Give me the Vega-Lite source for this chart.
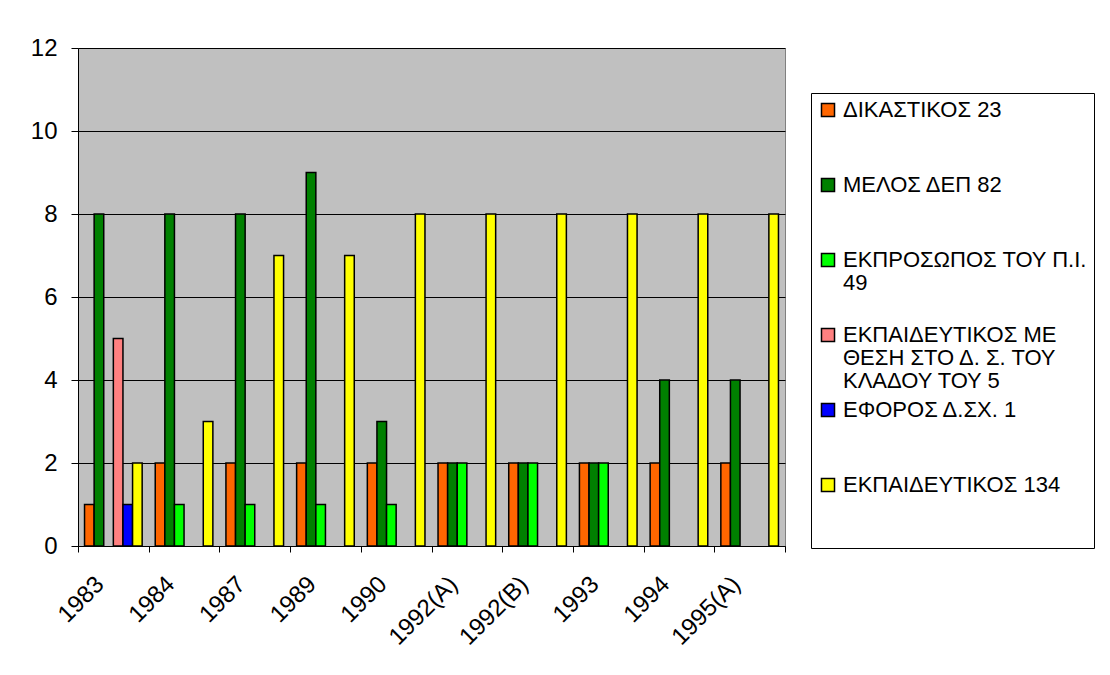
{
  "$schema": "https://vega.github.io/schema/vega-lite/v6.json",
  "width": 707,
  "height": 498,
  "autosize": {"type": "none"},
  "padding": {"left": 78, "top": 48, "right": 325, "bottom": 129},
  "background": "white",
  "config": {
    "font": "Liberation Sans",
    "view": {"fill": "#C0C0C0", "stroke": "#808080", "strokeWidth": 1}
  },
  "data": {
    "values": [
      {"year": "1983", "series": "ΔΙΚΑΣΤΙΚΟΣ 23", "value": 1},
      {"year": "1983", "series": "ΜΕΛΟΣ ΔΕΠ 82", "value": 8},
      {"year": "1983", "series": "ΕΚΠΑΙΔΕΥΤΙΚΟΣ ΜΕ ΘΕΣΗ ΣΤΟ Δ. Σ. ΤΟΥ ΚΛΑΔΟΥ ΤΟΥ 5", "value": 5},
      {"year": "1983", "series": "ΕΦΟΡΟΣ Δ.ΣΧ. 1", "value": 1},
      {"year": "1983", "series": "ΕΚΠΑΙΔΕΥΤΙΚΟΣ 134", "value": 2},
      {"year": "1984", "series": "ΔΙΚΑΣΤΙΚΟΣ 23", "value": 2},
      {"year": "1984", "series": "ΜΕΛΟΣ ΔΕΠ 82", "value": 8},
      {"year": "1984", "series": "ΕΚΠΡΟΣΩΠΟΣ ΤΟΥ Π.Ι. 49", "value": 1},
      {"year": "1984", "series": "ΕΚΠΑΙΔΕΥΤΙΚΟΣ 134", "value": 3},
      {"year": "1987", "series": "ΔΙΚΑΣΤΙΚΟΣ 23", "value": 2},
      {"year": "1987", "series": "ΜΕΛΟΣ ΔΕΠ 82", "value": 8},
      {"year": "1987", "series": "ΕΚΠΡΟΣΩΠΟΣ ΤΟΥ Π.Ι. 49", "value": 1},
      {"year": "1987", "series": "ΕΚΠΑΙΔΕΥΤΙΚΟΣ 134", "value": 7},
      {"year": "1989", "series": "ΔΙΚΑΣΤΙΚΟΣ 23", "value": 2},
      {"year": "1989", "series": "ΜΕΛΟΣ ΔΕΠ 82", "value": 9},
      {"year": "1989", "series": "ΕΚΠΡΟΣΩΠΟΣ ΤΟΥ Π.Ι. 49", "value": 1},
      {"year": "1989", "series": "ΕΚΠΑΙΔΕΥΤΙΚΟΣ 134", "value": 7},
      {"year": "1990", "series": "ΔΙΚΑΣΤΙΚΟΣ 23", "value": 2},
      {"year": "1990", "series": "ΜΕΛΟΣ ΔΕΠ 82", "value": 3},
      {"year": "1990", "series": "ΕΚΠΡΟΣΩΠΟΣ ΤΟΥ Π.Ι. 49", "value": 1},
      {"year": "1990", "series": "ΕΚΠΑΙΔΕΥΤΙΚΟΣ 134", "value": 8},
      {"year": "1992(A)", "series": "ΔΙΚΑΣΤΙΚΟΣ 23", "value": 2},
      {"year": "1992(A)", "series": "ΜΕΛΟΣ ΔΕΠ 82", "value": 2},
      {"year": "1992(A)", "series": "ΕΚΠΡΟΣΩΠΟΣ ΤΟΥ Π.Ι. 49", "value": 2},
      {"year": "1992(A)", "series": "ΕΚΠΑΙΔΕΥΤΙΚΟΣ 134", "value": 8},
      {"year": "1992(B)", "series": "ΔΙΚΑΣΤΙΚΟΣ 23", "value": 2},
      {"year": "1992(B)", "series": "ΜΕΛΟΣ ΔΕΠ 82", "value": 2},
      {"year": "1992(B)", "series": "ΕΚΠΡΟΣΩΠΟΣ ΤΟΥ Π.Ι. 49", "value": 2},
      {"year": "1992(B)", "series": "ΕΚΠΑΙΔΕΥΤΙΚΟΣ 134", "value": 8},
      {"year": "1993", "series": "ΔΙΚΑΣΤΙΚΟΣ 23", "value": 2},
      {"year": "1993", "series": "ΜΕΛΟΣ ΔΕΠ 82", "value": 2},
      {"year": "1993", "series": "ΕΚΠΡΟΣΩΠΟΣ ΤΟΥ Π.Ι. 49", "value": 2},
      {"year": "1993", "series": "ΕΚΠΑΙΔΕΥΤΙΚΟΣ 134", "value": 8},
      {"year": "1994", "series": "ΔΙΚΑΣΤΙΚΟΣ 23", "value": 2},
      {"year": "1994", "series": "ΜΕΛΟΣ ΔΕΠ 82", "value": 4},
      {"year": "1994", "series": "ΕΚΠΑΙΔΕΥΤΙΚΟΣ 134", "value": 8},
      {"year": "1995(A)", "series": "ΔΙΚΑΣΤΙΚΟΣ 23", "value": 2},
      {"year": "1995(A)", "series": "ΜΕΛΟΣ ΔΕΠ 82", "value": 4},
      {"year": "1995(A)", "series": "ΕΚΠΑΙΔΕΥΤΙΚΟΣ 134", "value": 8}
    ]
  },
  "mark": {"type": "bar", "stroke": "black", "strokeWidth": 1.5},
  "encoding": {
    "x": {
      "field": "year",
      "type": "nominal",
      "sort": ["1983", "1984", "1987", "1989", "1990", "1992(A)", "1992(B)", "1993", "1994", "1995(A)"],
      "scale": {"paddingInner": 0, "paddingOuter": 0},
      "axis": {
        "title": null,
        "grid": false,
        "labelAngle": -45,
        "labelAlign": "right",
        "labelBaseline": "top",
        "tickBand": "extent",
        "tickSize": 6,
        "labelPadding": 20,
        "labelOffset": -22,
        "labelFontSize": 24,
        "labelColor": "black",
        "domainColor": "black",
        "tickColor": "black"
      }
    },
    "xOffset": {
      "field": "series",
      "type": "nominal",
      "scale": {
        "domain": ["ΔΙΚΑΣΤΙΚΟΣ 23", "ΜΕΛΟΣ ΔΕΠ 82", "ΕΚΠΡΟΣΩΠΟΣ ΤΟΥ Π.Ι. 49", "ΕΚΠΑΙΔΕΥΤΙΚΟΣ ΜΕ ΘΕΣΗ ΣΤΟ Δ. Σ. ΤΟΥ ΚΛΑΔΟΥ ΤΟΥ 5", "ΕΦΟΡΟΣ Δ.ΣΧ. 1", "ΕΚΠΑΙΔΕΥΤΙΚΟΣ 134"],
        "paddingInner": 0,
        "paddingOuter": 0.68
      }
    },
    "y": {
      "field": "value",
      "type": "quantitative",
      "scale": {"domain": [0, 12], "nice": false},
      "axis": {
        "title": null,
        "values": [0, 2, 4, 6, 8, 10, 12],
        "grid": true,
        "gridColor": "black",
        "gridWidth": 1,
        "tickSize": 7,
        "labelPadding": 14,
        "labelFontSize": 24,
        "labelColor": "black",
        "domainColor": "black",
        "tickColor": "black"
      }
    },
    "color": {
      "field": "series",
      "type": "nominal",
      "scale": {
        "domain": ["ΔΙΚΑΣΤΙΚΟΣ 23", "ΜΕΛΟΣ ΔΕΠ 82", "ΕΚΠΡΟΣΩΠΟΣ ΤΟΥ Π.Ι. 49", "ΕΚΠΑΙΔΕΥΤΙΚΟΣ ΜΕ ΘΕΣΗ ΣΤΟ Δ. Σ. ΤΟΥ ΚΛΑΔΟΥ ΤΟΥ 5", "ΕΦΟΡΟΣ Δ.ΣΧ. 1", "ΕΚΠΑΙΔΕΥΤΙΚΟΣ 134"],
        "range": ["#FF6600", "#008000", "#00FF00", "#FF8080", "#0000FF", "#FFFF00"]
      },
      "legend": {
        "title": null,
        "orient": "none",
        "legendX": 733,
        "legendY": 45,
        "fillColor": "white",
        "strokeColor": "black",
        "padding": 6,
        "rowPadding": 7,
        "gridAlign": "all",
        "symbolType": "square",
        "symbolSize": 170,
        "symbolStrokeColor": "black",
        "symbolStrokeWidth": 1.5,
        "symbolOpacity": 1,
        "labelFontSize": 22,
        "labelColor": "black",
        "labelOffset": 4,
        "labelLimit": 400,
        "labelBaseline": "top",
        "labelExpr": "datum.label == 'ΕΚΠΡΟΣΩΠΟΣ ΤΟΥ Π.Ι. 49' ? ['ΕΚΠΡΟΣΩΠΟΣ ΤΟΥ Π.Ι.', '49'] : datum.label == 'ΕΚΠΑΙΔΕΥΤΙΚΟΣ ΜΕ ΘΕΣΗ ΣΤΟ Δ. Σ. ΤΟΥ ΚΛΑΔΟΥ ΤΟΥ 5' ? ['ΕΚΠΑΙΔΕΥΤΙΚΟΣ ΜΕ', 'ΘΕΣΗ ΣΤΟ Δ. Σ. ΤΟΥ', 'ΚΛΑΔΟΥ ΤΟΥ 5'] : datum.label == 'ΕΚΠΑΙΔΕΥΤΙΚΟΣ 134' ? ['ΕΚΠΑΙΔΕΥΤΙΚΟΣ 134', ' ', ' '] : datum.label",
        "encode": {
          "labels": {"update": {"dy": {"value": -10}, "lineHeight": {"value": 23}}}
        }
      }
    }
  }
}
